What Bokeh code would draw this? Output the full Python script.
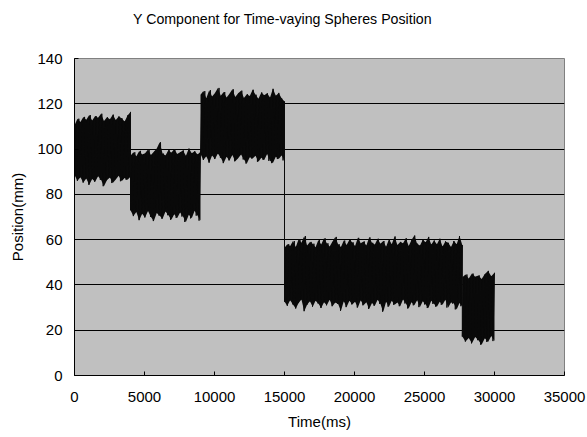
from bokeh.plotting import figure
from bokeh.models import Range1d, FixedTicker, Title
from bokeh.embed import file_html
from bokeh.resources import INLINE

# Segment boundaries (ms)
seg_bounds = [0, 4000, 9000, 15000, 27700, 30000]

# Read-off envelopes of the noisy signal (upper peaks / lower troughs), mm
upper1 = [110.5, 113.4, 112.0, 114.2, 113.0, 115.0, 112.6, 114.6, 113.8, 115.6,
          112.4, 114.0, 113.2, 115.2, 112.8, 114.4, 113.6, 112.2, 114.8, 116.4]
lower1 = [88.5, 86.0, 87.6, 85.2, 87.0, 84.2, 86.8, 85.6, 88.0, 86.4,
          83.6, 86.2, 87.4, 85.0, 86.6, 88.2, 85.8, 87.2, 86.4, 87.8]

upper2 = [97.0, 98.6, 96.8, 99.2, 97.6, 98.2, 99.8, 97.4, 98.8, 100.2,
          103.0, 98.0, 97.2, 99.6, 98.4, 100.0, 97.8, 98.6, 99.4, 97.0,
          100.2, 98.2, 99.0, 97.6, 98.8]
lower2 = [73.0, 70.4, 72.2, 68.6, 71.4, 69.8, 72.6, 70.0, 68.2, 71.8,
          70.6, 69.2, 72.4, 70.8, 68.8, 71.2, 69.6, 72.0, 70.2, 67.8,
          71.0, 69.4, 72.8, 70.6, 68.4]

upper3 = [124.0, 125.6, 122.4, 126.0, 123.2, 124.8, 127.0, 123.6, 125.2, 122.8,
          124.4, 126.4, 123.0, 124.6, 125.8, 122.6, 124.2, 123.4, 126.2, 124.0,
          122.2, 125.0, 123.8, 124.6, 122.8, 126.6, 123.6, 124.8, 122.4, 121.0]
lower3 = [97.8, 95.2, 96.8, 94.0, 97.2, 95.6, 98.0, 96.2, 93.8, 96.6,
          95.0, 97.4, 94.6, 96.0, 97.6, 95.4, 93.6, 96.4, 95.8, 97.0,
          94.4, 96.2, 95.2, 97.8, 94.8, 93.8, 96.6, 95.6, 97.2, 95.0]

upper4 = [56.4, 58.0, 57.2, 59.4, 56.8, 60.2, 58.6, 61.6,
          57.4, 59.0, 58.2, 56.6, 59.8, 57.8, 60.6, 58.4,
          57.0, 59.2, 61.2, 58.0, 56.8, 59.6, 57.6, 60.0,
          58.8, 57.2, 60.8, 58.4, 59.2, 57.4, 61.0, 58.6,
          57.8, 60.4, 58.2, 59.4, 56.9, 60.2, 58.0, 61.4,
          57.6, 59.0, 58.4, 60.6, 57.2, 59.8, 61.8, 58.2,
          57.4, 60.0, 58.8, 61.2, 57.8, 59.6, 58.0, 60.4,
          57.0, 59.2, 58.6, 56.8, 59.4, 58.0, 61.6, 57.6]
lower4 = [32.6, 30.8, 33.2, 31.4, 29.6, 32.0, 33.6, 28.4,
          31.2, 32.8, 30.4, 33.0, 31.8, 29.8, 32.4, 31.0,
          33.4, 30.6, 32.2, 31.6, 28.6, 32.8, 30.2, 33.0,
          31.4, 32.6, 30.0, 33.2, 31.0, 32.4, 29.4, 32.0,
          30.8, 33.4, 31.6, 28.2, 32.6, 30.4, 33.0, 31.2,
          32.2, 30.6, 33.6, 31.8, 29.6, 32.4, 31.0, 33.2,
          30.2, 32.8, 31.4, 29.8, 33.0, 31.6, 30.4, 32.6,
          31.2, 33.4, 30.0, 32.2, 31.8, 29.2, 32.0, 30.6]

upper5 = [43.4, 44.6, 42.8, 45.0, 43.6, 44.2, 42.6, 44.8, 46.2, 43.8, 45.4]
lower5 = [17.2, 15.0, 16.6, 14.2, 17.0, 15.6, 13.6, 16.4, 14.8, 17.4, 15.2]

uppers = [upper1, upper2, upper3, upper4, upper5]
lowers = [lower1, lower2, lower3, lower4, lower5]

x_ticks = [0, 5000, 10000, 15000, 20000, 25000, 30000, 35000]
y_ticks = [0, 20, 40, 60, 80, 100, 120, 140]

TITLE = "Y Component for Time-vaying Spheres Position"
FONT = "Liberation Sans"

p = figure(width=587, height=437, output_backend="svg", toolbar_location=None,
           x_range=Range1d(0, 35000), y_range=Range1d(0, 140),
           min_border_left=74, min_border_right=23, min_border_top=0,
           min_border_bottom=62, title=TITLE)

p.background_fill_color = "#C0C0C0"
p.border_fill_color = "white"
p.outline_line_color = "#808080"
p.outline_line_width = 1

# main chart title
p.title.text_font = FONT
p.title.text_font_size = "14.2px"
p.title.text_font_style = "normal"
p.title.text_color = "black"
p.title.align = "left"
p.title.offset = 58.5
p.title.vertical_align = "top"
p.title.standoff = 20

# blank spacer between the title and the plot area
p.add_layout(Title(text=" ", text_font_size="1px", text_color="white",
                   standoff=17), "above")

p.xgrid.visible = False
p.ygrid.grid_line_color = "black"
p.ygrid.grid_line_width = 1
p.ygrid.ticker = FixedTicker(ticks=y_ticks)

p.xaxis.ticker = FixedTicker(ticks=x_ticks)
p.yaxis.ticker = FixedTicker(ticks=y_ticks)

for ax in (p.xaxis[0], p.yaxis[0]):
    ax.axis_line_color = "black"
    ax.axis_line_width = 1
    ax.major_tick_in = 4
    ax.major_tick_out = 0
    ax.major_tick_line_color = "black"
    ax.minor_tick_line_color = None
    ax.major_label_text_font = FONT
    ax.major_label_text_font_size = "15px"
    ax.major_label_text_color = "black"
    ax.axis_label_text_font = FONT
    ax.axis_label_text_font_size = "15px"
    ax.axis_label_text_font_style = "normal"
    ax.axis_label_text_color = "black"

p.xaxis.axis_label = "Time(ms)"
p.yaxis.axis_label = "Position(mm)"
p.xaxis.major_label_standoff = 16
p.xaxis.axis_label_standoff = 8
p.yaxis.major_label_standoff = 12
p.yaxis.axis_label_standoff = 8

# Solid body of each noisy segment, between the read-off envelopes
xs, ys = [], []
for k in range(len(uppers)):
    up, lo = uppers[k], lowers[k]
    n = min(len(up), len(lo))
    start, end = seg_bounds[k], seg_bounds[k + 1]
    sx = [start + i * (end - start) / (n - 1) for i in range(n)]
    p.varea(x=sx, y1=lo[:n], y2=up[:n], fill_color="#0a0a0a")
    # zig-zag trace for the spiky texture and the jumps between segments
    step = (end - start) / (2 * n - 1)
    for i in range(n):
        xs.append(start + (2 * i) * step)
        ys.append(lo[i])
        xs.append(start + (2 * i + 1) * step)
        ys.append(up[i])

p.line(xs, ys, line_color="#0a0a0a", line_width=1)

open("out.html", "w").write(file_html(p, INLINE))
